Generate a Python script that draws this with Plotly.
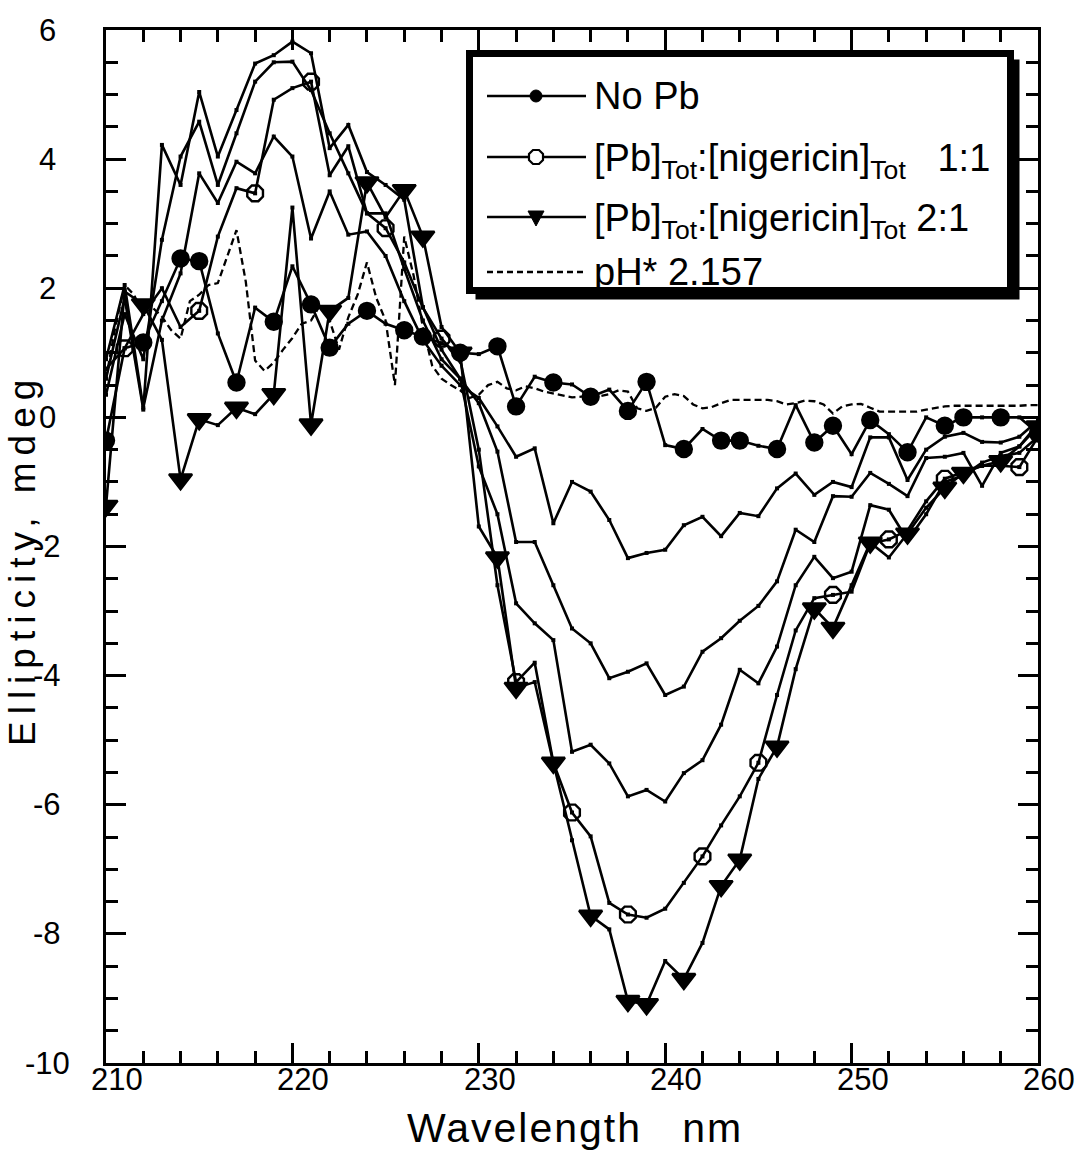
import plotly.graph_objects as go

# ---- data -------------------------------------------------------------
wavelength = list(range(210, 261))  # nm, 1 nm steps

no_pb = [-0.36, 1.07, 1.16, 1.8, 2.46, 2.42, 1.3, 0.54, 1.70, 1.48,
         2.34, 1.75, 1.08, 1.45, 1.65, 1.45, 1.35, 1.25, 1.15, 1.0,
         0.98, 1.1, 0.17, 0.63, 0.54, 0.51, 0.32, 0.43, 0.1, 0.55,
         -0.43, -0.49, -0.18, -0.36, -0.36, -0.44, -0.49, 0.19, -0.39, -0.13,
         -0.57, -0.04, -0.26, -0.54, 0.0, -0.13, 0.0, 0.0, 0.0, 0.0,
         -0.25]

pb_1to1 = [0.75, 1.07, 1.6, 2.0, 1.4, 1.65, 2.8, 3.55, 3.47, 4.92,
           5.1, 5.2, 3.75, 4.2, 3.16, 2.93, 2.4, 1.7, 1.22, 0.9,
           -0.5, -2.6, -4.1, -3.8, -5.35, -6.12, -6.49, -7.52, -7.70, -7.75,
           -7.61, -7.21, -6.80, -6.32, -5.87, -5.35, -4.3, -3.3, -2.8, -2.75,
           -2.7, -1.95, -1.89, -1.75, -1.3, -0.95, -0.85, -0.75, -0.75, -0.77,
           -0.3]

pb_2to1 = [-1.37, 1.95, 1.75, 1.2, -0.96, -0.03, -0.12, 0.15, 0.05, 0.36,
           3.25, -0.11, 1.65, 1.85, 3.64, 3.1, 3.52, 2.8, 1.4, 1.0,
           -1.69, -2.17, -4.19, -4.1, -5.35, -6.55, -7.72, -7.93, -9.04, -9.09,
           -8.42, -8.7, -8.14, -7.26, -6.85, -5.6, -5.1, -3.9, -2.96, -3.26,
           -2.6, -1.94, -2.17, -1.8, -1.4, -1.09, -0.86, -0.75, -0.68, -0.45,
           -0.14]

# intermediate titration points (unlabelled curves)
titr_a = [0.9, 2.05, 0.15, 1.5, 2.23, 3.78, 3.32, 3.96, 3.78, 4.35,
          4.04, 2.77, 3.5, 2.83, 2.88, 2.5, 1.8, 1.2, 0.8, 0.5,
          0.3, -0.14, -0.61, -0.48, -1.64, -1.0, -1.15, -1.59, -2.18, -2.1,
          -2.05, -1.67, -1.54, -1.84, -1.48, -1.53, -1.1, -0.87, -1.2, -1.0,
          -1.08, -0.31, -0.31, -0.97, -0.5, -0.3, -0.24, -0.38, -0.39, -0.3,
          -0.05]

titr_b = [0.6, 1.85, 0.12, 4.22, 3.6, 5.04, 4.04, 4.76, 5.48, 5.61,
          5.82, 5.64, 4.17, 4.53, 3.8, 3.6, 3.37, 1.71, 1.05, 0.6,
          0.22, -0.53, -1.93, -1.93, -2.6, -3.27, -3.5, -4.04, -3.94, -3.81,
          -4.3, -4.17, -3.63, -3.42, -3.15, -2.92, -2.54, -1.74, -1.93, -1.22,
          -1.23, -0.86, -1.03, -1.22, -0.63, -0.61, -0.55, -1.06, -0.55, -0.45,
          -0.1]

titr_c = [0.35, 1.6, 0.9, 2.75, 4.04, 4.58, 3.6, 4.4, 5.2, 5.5,
          5.51, 5.07, 4.4, 3.78, 3.16, 3.16, 2.3, 1.5, 0.9, 0.6,
          -0.76, -1.5, -2.88, -3.19, -3.45, -5.18, -5.07, -5.36, -5.87, -5.77,
          -5.95, -5.51, -5.31, -4.76, -3.91, -4.12, -3.55, -2.6, -2.16, -2.49,
          -2.39, -1.36, -1.43, -1.9, -1.5, -1.0, -0.9, -0.7, -0.6, -0.55,
          -0.3]

# pH* 2.157 reference spectrum, 0.5 nm steps
ph_wavelength = [210 + 0.5 * i for i in range(101)]
ph_2157 = [0.6, 1.4, 2.05, 1.9, 1.6, 1.7, 1.56, 1.35, 1.22, 1.8,
           1.9, 2.05, 2.08, 2.5, 2.9, 2.1, 0.88, 0.72, 0.85, 1.05,
           1.23, 1.45, 1.5, 1.75, 1.5, 1.05, 1.55, 1.9, 2.4, 1.85,
           1.5, 0.5, 2.8, 2.2, 1.4, 0.8, 0.6, 0.5, 0.42, 0.3,
           0.35, 0.5, 0.55, 0.45, 0.42, 0.48, 0.45, 0.4, 0.37, 0.33,
           0.31, 0.32, 0.33, 0.33, 0.36, 0.42, 0.4, 0.14, 0.1, 0.15,
           0.32, 0.36, 0.33, 0.2, 0.14, 0.16, 0.22, 0.27, 0.27, 0.27,
           0.27, 0.27, 0.25, 0.2, 0.22, 0.26, 0.25, 0.2, 0.06, 0.17,
           0.2, 0.21, 0.15, 0.09, 0.09, 0.09, 0.09, 0.09, 0.12, 0.15,
           0.17, 0.18, 0.18, 0.17, 0.17, 0.17, 0.17, 0.18, 0.18, 0.19,
           0.19]

# wavelengths that carry the large symbols
no_pb_marks = [210, 212, 214, 215, 217, 219, 221, 222, 224, 226, 227, 229,
               231, 232, 234, 236, 238, 239, 241, 243, 244, 246, 248, 249,
               251, 253, 255, 256, 258, 260]
pb_2to1_marks = no_pb_marks
pb_1to1_marks = [211, 215, 218, 221, 225, 228, 232, 235, 238, 242, 245,
                 249, 252, 255, 259]

x_ticks = [210, 220, 230, 240, 250, 260]
y_ticks = [6, 4, 2, 0, -2, -4, -6, -8, -10]

legend_labels = [
    "No Pb",
    "[Pb]<sub>Tot</sub>:[nigericin]<sub>Tot</sub>&nbsp;&nbsp;&nbsp;1:1",
    "[Pb]<sub>Tot</sub>:[nigericin]<sub>Tot</sub>&nbsp;2:1",
    "pH* 2.157",
]

# ---- geometry ---------------------------------------------------------
W, H = 1079, 1154
PL, PR, PT, PB = 106, 1038, 30, 1063   # plot area in pixels
FONT = "Arial, Liberation Sans, sans-serif"
LW = 2.6


def fx(px):
    return (px - PL) / (PR - PL)


def fy(py):
    return (PB - py) / (PB - PT)


def subset(xs, ys, keep):
    pairs = [(x, y) for x, y in zip(xs, ys) if x in keep]
    return [p[0] for p in pairs], [p[1] for p in pairs]


fig = go.Figure()

# dashed reference spectrum
fig.add_trace(go.Scatter(x=ph_wavelength, y=ph_2157, mode="lines",
                         line=dict(color="black", width=2.3, dash="7px,4px"),
                         showlegend=False))

# solid spectra with small point dots
for series in (titr_a, titr_b, titr_c, no_pb, pb_1to1, pb_2to1):
    fig.add_trace(go.Scatter(
        x=wavelength, y=series, mode="lines+markers",
        line=dict(color="black", width=LW),
        marker=dict(symbol="square", size=4, color="black"),
        showlegend=False))

# large symbols
for series, keep, sym, size in (
        (no_pb, no_pb_marks, "circle", 16),
        (pb_1to1, pb_1to1_marks, "octagon-open", 17),
        (pb_2to1, pb_2to1_marks, "triangle-down", 20)):
    xs, ys = subset(wavelength, series, keep)
    fig.add_trace(go.Scatter(
        x=xs, y=ys, mode="markers",
        marker=dict(symbol=sym, size=size, color="black",
                    line=dict(color="black", width=2.4)),
        showlegend=False))

# ---- legend box drawn by hand -----------------------------------------
shapes = []
bx0, by0, bx1, by1 = 469.5, 53.5, 1010.5, 290.5
shapes.append(dict(type="rect", xref="paper", yref="paper",
                   x0=fx(bx0 + 6), x1=fx(bx1 + 9), y0=fy(by0 + 6), y1=fy(by1 + 9),
                   fillcolor="black", line=dict(width=0)))
shapes.append(dict(type="rect", xref="paper", yref="paper",
                   x0=fx(bx0), x1=fx(bx1), y0=fy(by0), y1=fy(by1),
                   fillcolor="white", line=dict(color="black", width=7)))

rows = [96, 157, 217, 272]
lx0, lx1, mx = 487, 586, 536
for i, ry in enumerate(rows):
    shapes.append(dict(type="line", xref="paper", yref="paper",
                       x0=fx(lx0), x1=fx(lx1), y0=fy(ry), y1=fy(ry),
                       line=dict(color="black", width=2.4,
                                 dash="6px,4px" if i == 3 else "solid")))


def poly(cx, cy, pts):
    return "M " + " L ".join(f"{fx(cx + px)},{fy(cy + py)}" for px, py in pts) + " Z"


# filled dot
shapes.append(dict(type="circle", xref="paper", yref="paper",
                   x0=fx(mx - 6), x1=fx(mx + 6), y0=fy(rows[0] - 6), y1=fy(rows[0] + 6),
                   fillcolor="black", line=dict(color="black", width=1)))
# open octagon
octa = [(-3, -7), (3, -7), (7, -3), (7, 3), (3, 7), (-3, 7), (-7, 3), (-7, -3)]
shapes.append(dict(type="path", xref="paper", yref="paper",
                   path=poly(mx, rows[1], octa), fillcolor="white",
                   line=dict(color="black", width=2.2)))
# down triangle
tri = [(-8, -6), (8, -6), (0, 9)]
shapes.append(dict(type="path", xref="paper", yref="paper",
                   path=poly(mx, rows[2], tri), fillcolor="black",
                   line=dict(color="black", width=1)))

annotations = []
for ry, label in zip(rows, legend_labels):
    annotations.append(dict(xref="paper", yref="paper", x=fx(592), y=fy(ry),
                            xanchor="left", yanchor="middle", showarrow=False,
                            text=label, font=dict(family=FONT, size=38, color="black"),
                            yshift=-4 if "sub" in label else 0))

# y tick labels, centred in the left margin
for v in y_ticks:
    annotations.append(dict(xref="paper", yref="y", x=fx(47), y=v,
                            xanchor="center", yanchor="middle", showarrow=False,
                            text=str(v), font=dict(family=FONT, size=31, color="black")))

# x tick labels, set slightly right of their ticks
for v in x_ticks:
    annotations.append(dict(xref="x", yref="paper", x=v, y=fy(1079),
                            xanchor="center", yanchor="middle", showarrow=False,
                            xshift=11, text=str(v),
                            font=dict(family=FONT, size=31, color="black")))

# axis titles
annotations.append(dict(xref="paper", yref="paper", x=fx(22), y=fy(560),
                        xanchor="center", yanchor="middle", showarrow=False,
                        textangle=-90,
                        text='<span style="letter-spacing:7px">Ellipticity, mdeg</span>',
                        font=dict(family=FONT, size=37, color="black")))
annotations.append(dict(xref="paper", yref="paper", x=fx(575), y=fy(1128),
                        xanchor="center", yanchor="middle", showarrow=False,
                        text='<span style="letter-spacing:2px">Wavelength&nbsp;&nbsp;&nbsp;nm</span>',
                        font=dict(family=FONT, size=41, color="black")))

axis_common = dict(showgrid=False, zeroline=False, showline=True,
                   linecolor="black", linewidth=3, mirror="allticks",
                   ticks="inside", tickcolor="black", tickwidth=2.5, ticklen=20,
                   showticklabels=False)

fig.update_layout(
    width=W, height=H,
    margin=dict(l=PL, r=W - PR, t=PT, b=H - PB, pad=0),
    paper_bgcolor="white", plot_bgcolor="white",
    showlegend=False,
    xaxis=dict(range=[210, 260], tickvals=x_ticks,
               minor=dict(dtick=2, tick0=210, ticks="inside", ticklen=12,
                          tickwidth=2.5, tickcolor="black"),
               **axis_common),
    yaxis=dict(range=[-10, 6], tickvals=y_ticks,
               minor=dict(dtick=0.5, tick0=0, ticks="inside", ticklen=12,
                          tickwidth=2.5, tickcolor="black"),
               **axis_common),
    shapes=shapes,
    annotations=annotations,
)

fig.write_html("out.html")
